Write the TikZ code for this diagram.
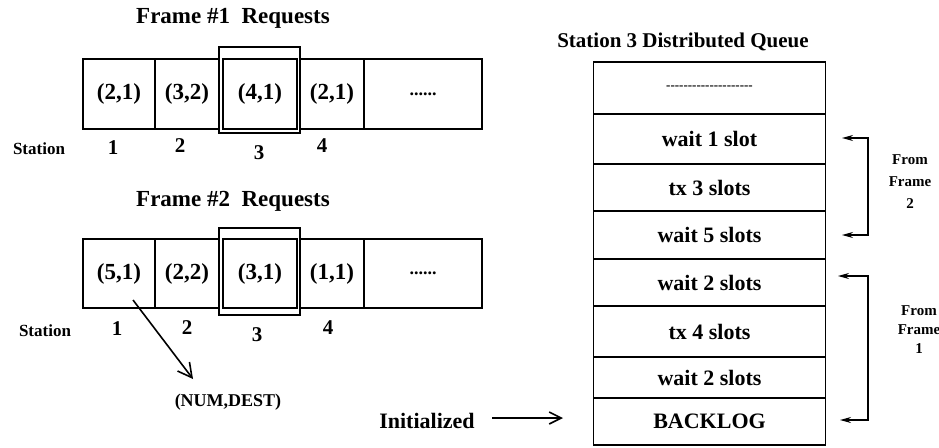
\documentclass[tikz,border=0pt]{standalone}
\usepackage{fontspec}
\setmainfont{Liberation Serif}
\newfontfamily\plainfont{Liberation Serif}
\usetikzlibrary{arrows.meta}
\begin{document}
\begin{tikzpicture}[x=1pt,y=-1pt,line width=1.6pt,
  fsize/.style={font=\fontsize{#1}{#1}\selectfont\bfseries},
  cell/.style={draw,inner sep=0pt,minimum height=70,fsize=23},
  hilite/.style={draw,inner sep=0pt,minimum width=81,minimum height=86},
  qcell/.style={draw,inner sep=0pt,minimum width=232,fsize=22},
  lbl/.style={inner sep=0pt,fsize=#1},
  barb/.style={-{Straight Barb[length=14pt,width=15pt,line width=1.6pt]}},
  brk/.style={line width=1.3pt,{Stealth[length=11pt,width=6pt]}-{Stealth[length=11pt,width=6pt]}}]
\useasboundingbox (0,0) rectangle (939,447);

% ---- Frame 1 request slots ----
\node[lbl=23] (t1) at (233,18) {Frame \#1\ \ Requests};
\node[cell,minimum width=72] (a1) at (119,94) {(2,1)};
\node[cell,minimum width=64] (a2) at (187,94) {(3,2)};
\node[cell,minimum width=74] (a3) at (260,94) {(4,1)};
\node[cell,minimum width=64] (a4) at (332,94) {(2,1)};
\node[cell,minimum width=118] (a5) at (423,94) {\fontsize{18}{18}\selectfont\raisebox{-3pt}{......}};
\node[hilite] (h1) at (259.5,90) {};
\node[lbl=17] (s1) at (39,149) {Station};
\node[lbl=21] (n11) at (113,148) {1};
\node[lbl=21] (n12) at (180,146) {2};
\node[lbl=21] (n13) at (259,153) {3};
\node[lbl=21] (n14) at (322,146) {4};

% ---- Frame 2 request slots ----
\node[lbl=23] (t2) at (233,201) {Frame \#2\ \ Requests};
\node[cell,minimum width=72,minimum height=69] (b1) at (119,273.5) {(5,1)};
\node[cell,minimum width=64,minimum height=69] (b2) at (187,273.5) {(2,2)};
\node[cell,minimum width=74,minimum height=69] (b3) at (260,273.5) {(3,1)};
\node[cell,minimum width=64,minimum height=69] (b4) at (332,273.5) {(1,1)};
\node[cell,minimum width=118,minimum height=69] (b5) at (423,273.5) {\fontsize{18}{18}\selectfont\raisebox{-3pt}{......}};
\node[hilite,minimum height=87] (h2) at (259.5,271.5) {};
\node[lbl=17] (s2) at (45,331) {Station};
\node[lbl=21] (n21) at (117,329) {1};
\node[lbl=21] (n22) at (187,328) {2};
\node[lbl=21] (n23) at (257,335) {3};
\node[lbl=21] (n24) at (328,328) {4};

% request format pointer
\coordinate (numstart) at (133,300);
\coordinate (numtip) at (193,379);
\draw[barb] (numstart) -- (numtip);
\node[lbl=18] (nd) at (228,402) {(NUM,DEST)};

% ---- distributed queue of station 3 ----
\node[lbl=21] (qt) at (683,42) {Station 3 Distributed Queue};
\node[qcell,minimum height=52] (q1) at (709.5,88) {\plainfont\bfseries\fontsize{13}{13}\selectfont--------------------};
\node[qcell,minimum height=50] (q2) at (709.5,139) {wait 1 slot};
\node[qcell,minimum height=47] (q3) at (709.5,187.5) {tx 3 slots};
\node[qcell,minimum height=48] (q4) at (709.5,235) {wait 5 slots};
\node[qcell,minimum height=47] (q5) at (709.5,282.5) {wait 2 slots};
\node[qcell,minimum height=51] (q6) at (709.5,331.5) {tx 4 slots};
\node[qcell,minimum height=41] (q7) at (709.5,377.5) {wait 2 slots};
\node[qcell,minimum height=47] (q8) at (709.5,421.5) {BACKLOG};

% initial entry
\node[lbl=22] (init) at (427,421) {Initialized};
\coordinate (initstart) at (492,418);
\coordinate (inittip) at (563,418);
\draw[-{Straight Barb[length=12pt,width=12pt,line width=1.6pt]}] (initstart) -- (inittip);

% origin brackets
\coordinate (f2t) at (842,138);
\coordinate (f2tv) at (868,138);
\coordinate (f2bv) at (868,235);
\coordinate (f2b) at (842,235);
\draw[brk] (f2t) -- (f2tv) -- (f2bv) -- (f2b);
\node[lbl=15,align=center,font=\fontsize{15}{22}\selectfont\bfseries] (fr2) at (910,182) {From\\Frame\\2};

\coordinate (f1t) at (838,276);
\coordinate (f1tv) at (868,276);
\coordinate (f1bv) at (868,420);
\coordinate (f1b) at (840,420);
\draw[brk] (f1t) -- (f1tv) -- (f1bv) -- (f1b);
\node[lbl=15,align=center,font=\fontsize{15}{19}\selectfont\bfseries] (fr1) at (919,330) {From\\Frame\\1};
\end{tikzpicture}
\end{document}
